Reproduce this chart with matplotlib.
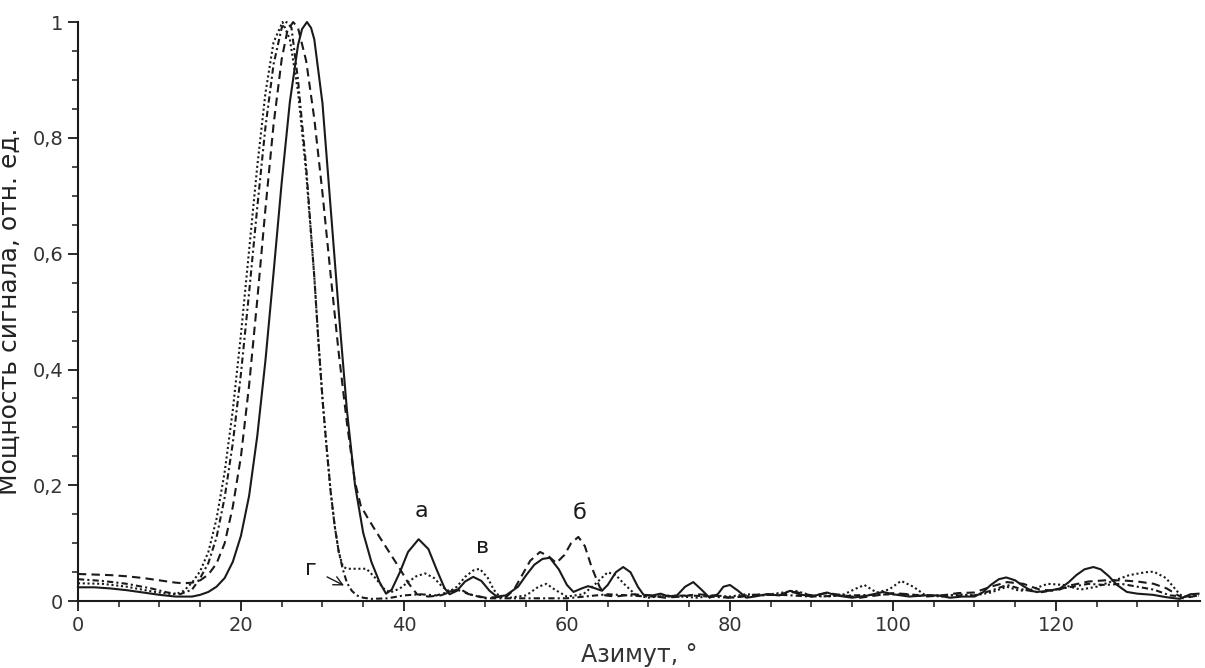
import matplotlib
matplotlib.use("Agg")
import matplotlib.pyplot as plt
from matplotlib.ticker import MultipleLocator, FixedLocator, FixedFormatter

# curve "а" (solid)
curve_a = [(0, 0.024), (2, 0.024), (4, 0.022), (6, 0.019), (8, 0.015), (10, 0.011), (12, 0.008),
           (14, 0.008), (15, 0.011), (16, 0.016), (17, 0.025), (18, 0.040), (19, 0.068), (20, 0.113),
           (21, 0.182), (22, 0.285), (23, 0.415), (24, 0.567), (25, 0.723), (26, 0.862), (27, 0.96),
           (27.5, 0.988), (28.1, 1.0), (28.6, 0.99), (29, 0.97), (30, 0.86), (31, 0.68), (32, 0.50),
           (33, 0.33), (34, 0.20), (35, 0.118), (36, 0.068), (37, 0.033), (37.8, 0.013), (38.5, 0.02),
           (39.5, 0.05), (40.5, 0.085), (41.8, 0.107), (43, 0.09), (44, 0.055), (45, 0.022), (45.6, 0.012),
           (46.5, 0.018), (47.5, 0.034), (48.5, 0.042), (49.5, 0.035), (50.5, 0.018), (51.4, 0.008),
           (52.5, 0.01), (54, 0.025), (55, 0.045), (56, 0.063), (57, 0.073), (57.9, 0.075), (59, 0.055),
           (60, 0.028), (60.8, 0.016), (61.8, 0.022), (62.6, 0.026), (63.5, 0.022), (64.3, 0.018),
           (65, 0.028), (66, 0.05), (66.9, 0.059), (67.8, 0.05), (68.7, 0.025), (69.4, 0.011),
           (70.5, 0.01), (71.5, 0.013), (72.5, 0.008), (73.5, 0.01), (74.5, 0.025), (75.5, 0.033),
           (76.5, 0.02), (77.5, 0.006), (78.5, 0.012), (79.2, 0.025), (80, 0.028), (81, 0.018),
           (82, 0.006), (83, 0.008), (84.5, 0.012), (86, 0.01), (87.4, 0.018), (88.5, 0.012), (90, 0.008),
           (91.9, 0.015), (93, 0.01), (95, 0.006), (97, 0.01), (98.8, 0.016), (100, 0.012), (102, 0.008),
           (104, 0.01), (105.5, 0.01), (107, 0.006), (108.5, 0.008), (110, 0.008), (111, 0.015),
           (112, 0.028), (113, 0.038), (113.9, 0.041), (115, 0.036), (116, 0.026), (117, 0.018),
           (117.6, 0.016), (118.5, 0.017), (119.5, 0.019), (120.5, 0.022), (121.5, 0.032), (122.5, 0.045),
           (123.5, 0.055), (124.6, 0.059), (125.5, 0.055), (126.5, 0.043), (127.5, 0.028), (128.7, 0.016),
           (130, 0.013), (131.9, 0.011), (133.5, 0.007), (135.2, 0.004), (136.5, 0.012), (137.5, 0.013)]

# curve "б" (dashed)
curve_b = [(0, 0.047), (2, 0.046), (4, 0.045), (6, 0.043), (8, 0.040), (10, 0.036), (12, 0.032),
           (13, 0.031), (14, 0.032), (15, 0.036), (16, 0.046), (17, 0.065), (18, 0.10), (19, 0.163),
           (20, 0.25), (21, 0.373), (22, 0.52), (23, 0.677), (24, 0.823), (25, 0.936), (25.7, 0.985),
           (26.4, 1.0), (27, 0.99), (28, 0.933), (29, 0.833), (30, 0.705), (31, 0.564), (32, 0.428),
           (33, 0.308), (34, 0.205), (34.7, 0.165), (35.5, 0.145), (36.5, 0.122), (37.5, 0.10),
           (38.5, 0.078), (39.5, 0.056), (40.5, 0.032), (41.6, 0.012), (43, 0.008), (44.5, 0.01),
           (46.5, 0.02), (48, 0.012), (50, 0.006), (52.6, 0.008), (53.5, 0.02), (54.5, 0.045),
           (55.5, 0.07), (56.7, 0.085), (57.7, 0.078), (58.7, 0.066), (59.7, 0.08), (60.5, 0.1),
           (61.4, 0.111), (62.2, 0.095), (63, 0.06), (64, 0.025), (64.7, 0.01), (66, 0.008), (68, 0.012),
           (70, 0.01), (72, 0.006), (74, 0.008), (76, 0.012), (78, 0.01), (80, 0.006), (82, 0.01),
           (84, 0.012), (86, 0.01), (88, 0.016), (90, 0.01), (92, 0.014), (94, 0.01), (96, 0.006),
           (98, 0.01), (100, 0.014), (102, 0.012), (104, 0.008), (106, 0.01), (108, 0.014), (110, 0.015),
           (112, 0.025), (114, 0.033), (116, 0.03), (118, 0.02), (120, 0.018), (122, 0.028), (124, 0.034),
           (126, 0.036), (128, 0.036), (130, 0.034), (132, 0.03), (133.6, 0.022), (135, 0.01),
           (135.6, 0.005), (137.5, 0.01)]

# curve "в" (dotted)
curve_v = [(0, 0.031), (3, 0.030), (6, 0.025), (9, 0.017), (11, 0.013), (12, 0.012), (13, 0.018),
           (14, 0.032), (15, 0.052), (16, 0.085), (17, 0.142), (18, 0.223), (19, 0.33), (20, 0.461),
           (21, 0.606), (22, 0.751), (23, 0.877), (24, 0.965), (25.1, 1.0), (26, 0.97), (27, 0.88),
           (28, 0.74), (29, 0.56), (29.5, 0.45), (30, 0.35), (30.5, 0.267), (31, 0.19), (31.5, 0.13),
           (32, 0.085), (32.5, 0.06), (33, 0.056), (35.4, 0.056), (36.5, 0.04), (37.5, 0.022),
           (38.3, 0.015), (39.5, 0.022), (40.5, 0.033), (41.5, 0.043), (42.6, 0.048), (43.7, 0.04),
           (44.7, 0.025), (45.6, 0.017), (46.5, 0.025), (47.5, 0.042), (48.5, 0.053), (49.3, 0.056),
           (50.3, 0.04), (51, 0.02), (51.8, 0.007), (53, 0.006), (55, 0.01), (56.5, 0.025), (57.5, 0.03),
           (58.5, 0.02), (60, 0.008), (62, 0.012), (63.5, 0.03), (65, 0.05), (66, 0.045), (67, 0.03),
           (68.5, 0.01), (70, 0.006), (72, 0.01), (74, 0.008), (76, 0.006), (78, 0.01), (80, 0.008),
           (82, 0.012), (84, 0.01), (86, 0.014), (88, 0.018), (90, 0.01), (92, 0.008), (94, 0.012),
           (95.5, 0.022), (96.5, 0.028), (98, 0.015), (99.5, 0.02), (101, 0.035), (102.5, 0.025),
           (104, 0.01), (106, 0.008), (108, 0.012), (110, 0.01), (112, 0.015), (114, 0.025),
           (115.5, 0.018), (117, 0.02), (119, 0.03), (121, 0.028), (123, 0.02), (125, 0.025),
           (127, 0.035), (129, 0.045), (131, 0.05), (132, 0.051), (133.5, 0.04), (135, 0.015),
           (135.6, 0.007), (137.5, 0.01)]

# curve "г" (dash-dot)
curve_g = [(0, 0.038), (3, 0.035), (6, 0.030), (9, 0.022), (11, 0.015), (12.5, 0.012), (14, 0.02),
           (15, 0.04), (16, 0.066), (17, 0.11), (18, 0.179), (19, 0.273), (20, 0.393), (21, 0.533),
           (22, 0.68), (23, 0.818), (24, 0.927), (25, 0.99), (25.6, 1.0), (26.2, 0.99), (27, 0.9),
           (28, 0.75), (29, 0.56), (29.5, 0.45), (30, 0.35), (30.5, 0.267), (31, 0.19), (31.5, 0.13),
           (32, 0.085), (32.5, 0.055), (33, 0.032), (33.6, 0.018), (34.2, 0.01), (35, 0.006),
           (36, 0.004), (38, 0.005), (40, 0.01), (42, 0.012), (44, 0.01), (46, 0.018), (47, 0.02),
           (48, 0.012), (50, 0.005), (55, 0.005), (60, 0.005), (65, 0.012), (70, 0.008), (75, 0.01),
           (80, 0.006), (85, 0.012), (90, 0.008), (95, 0.01), (100, 0.012), (105, 0.01), (110, 0.01),
           (112, 0.018), (114, 0.028), (116, 0.02), (118, 0.015), (120, 0.02), (122, 0.025), (124, 0.03),
           (126, 0.028), (128, 0.03), (130, 0.025), (132, 0.02), (134, 0.01), (136, 0.008), (137.5, 0.01)]

xticks = [0, 20, 40, 60, 80, 100, 120]
yticks = [0, 0.2, 0.4, 0.6, 0.8, 1.0]
ytick_labels = ["0", "0,2", "0,4", "0,6", "0,8", "1"]

ink = "#1a1a1a"
plt.rcParams["font.family"] = ["DejaVu Sans"]

fig = plt.figure(figsize=(12.05, 6.68), dpi=100)
ax = fig.add_axes([0.0647, 0.1, 0.9313, 0.867])

styles = [
    (curve_a, "-"),
    (curve_b, (0, (4, 2.5))),
    (curve_v, (0, (1, 1.3))),
    (curve_g, (0, (3, 1.5, 1, 1.5))),
]
for pts, ls in styles:
    xs, ys = zip(*pts)
    ax.plot(xs, ys, color=ink, lw=1.5, linestyle=ls, clip_on=False)

ax.set_xlim(0, 137.7)
ax.set_ylim(0, 1)

for s in ["top", "right"]:
    ax.spines[s].set_visible(False)
for s in ["left", "bottom"]:
    ax.spines[s].set_linewidth(1.5)
    ax.spines[s].set_color(ink)

ax.xaxis.set_major_locator(FixedLocator(xticks))
ax.xaxis.set_minor_locator(MultipleLocator(5))
ax.yaxis.set_major_locator(FixedLocator(yticks))
ax.yaxis.set_major_formatter(FixedFormatter(ytick_labels))
ax.yaxis.set_minor_locator(MultipleLocator(0.05))
ax.tick_params(which="major", length=7, width=1.3, color=ink, labelsize=14, labelcolor="#333333")
ax.tick_params(which="minor", length=4, width=1.1, color=ink)

ax.set_xlabel("Азимут, °", fontsize=17, color="#333333", labelpad=6)
ax.set_ylabel("Мощность сигнала, отн. ед.", fontsize=18, color="#222222")
ax.yaxis.set_label_coords(-0.05, 0.5)

ax.text(42.1, 0.155, "а", fontsize=16, ha="center", va="center", color=ink)
ax.text(49.7, 0.093, "в", fontsize=16, ha="center", va="center", color=ink)
ax.text(61.6, 0.152, "б", fontsize=16, ha="center", va="center", color=ink)
ax.annotate("г", xy=(32.8, 0.026), xytext=(28.6, 0.056), fontsize=16, ha="center", va="center",
            color=ink, arrowprops=dict(arrowstyle="->", color=ink, lw=1.0, shrinkA=6, shrinkB=1))

fig.savefig("out.png", dpi=100)
